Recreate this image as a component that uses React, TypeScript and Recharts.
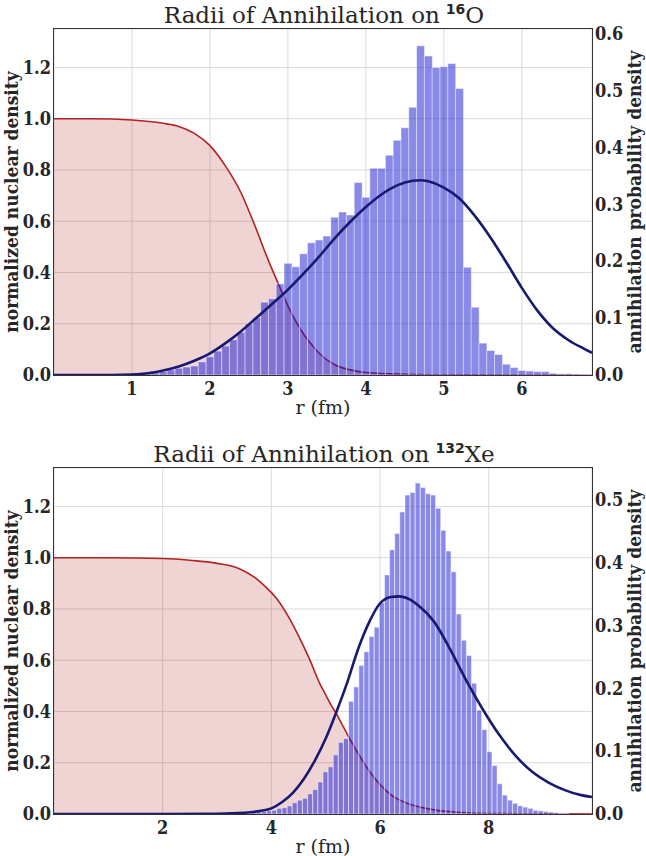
import { ComposedChart, Area, Bar, Line, XAxis, YAxis, CartesianGrid, Label } from 'recharts';

// ---- 16O panel ----
// histogram bins are 0.1 fm wide, centred on 0.0, 0.1, ... 6.9
const O16_BIN_WIDTH = 0.1;
const O16_HIST = [
  0, 0, 0, 0, 0, 0, 0, 0, 0, 0,
  0.001, 0.001, 0.002, 0.004, 0.006, 0.009, 0.012, 0.014, 0.016, 0.023,
  0.032, 0.042, 0.051, 0.062, 0.075, 0.09, 0.101, 0.128, 0.134, 0.16,
  0.196, 0.19, 0.213, 0.232, 0.237, 0.244, 0.277, 0.286, 0.281, 0.338,
  0.312, 0.363, 0.363, 0.386, 0.412, 0.434, 0.47, 0.578, 0.56, 0.54,
  0.541, 0.547, 0.503, 0.189, 0.119, 0.056, 0.043, 0.036, 0.019, 0.013,
  0.008, 0.007, 0.006, 0.006, 0.003, 0.002, 0.002, 0.0015, 0.001, 0.001,
];
const O16_RHO_R = [0, 0.5, 1.0, 1.4, 1.6, 1.8, 2.0, 2.2, 2.4, 2.5, 2.6, 2.7, 2.8, 2.9, 3.0, 3.1, 3.2, 3.3, 3.4, 3.6, 3.8, 4.0, 4.5, 5.0, 6.0, 6.9];
const O16_RHO = [1.0, 1.0, 0.995, 0.982, 0.97, 0.943, 0.895, 0.815, 0.71, 0.64, 0.565, 0.485, 0.41, 0.34, 0.27, 0.21, 0.16, 0.12, 0.085, 0.04, 0.02, 0.01, 0.003, 0.001, 0, 0];
const O16_PROB_R = [0, 0.5, 1.0, 1.2, 1.4, 1.6, 1.8, 2.0, 2.2, 2.4, 2.6, 2.8, 3.0, 3.2, 3.4, 3.6, 3.8, 4.0, 4.2, 4.4, 4.6, 4.7, 4.8, 5.0, 5.2, 5.4, 5.6, 5.8, 6.0, 6.2, 6.4, 6.6, 6.8, 6.9];
const O16_PROB = [0, 0, 0.001, 0.003, 0.008, 0.015, 0.025, 0.038, 0.056, 0.077, 0.101, 0.125, 0.15, 0.178, 0.208, 0.24, 0.269, 0.295, 0.317, 0.333, 0.341, 0.342, 0.34, 0.329, 0.31, 0.279, 0.241, 0.198, 0.153, 0.113, 0.082, 0.061, 0.046, 0.039];
const O16_X_TICKS = [1, 2, 3, 4, 5, 6];
const O16_RIGHT_TICKS = [0, 0.1, 0.2, 0.3, 0.4, 0.5, 0.6];

// ---- 132Xe panel ----
// 105 bins across 0 - 9.9 fm
const XE_BIN_WIDTH = 9.9 / 105;
const XE_HIST = [
  0, 0, 0, 0, 0, 0, 0, 0, 0, 0,
  0, 0, 0, 0, 0, 0, 0, 0, 0, 0,
  0, 0, 0, 0, 0, 0, 0, 0, 0, 0,
  0, 0, 0, 0, 0, 0, 0, 0, 0.001, 0.002,
  0.003, 0.004, 0.005, 0.006, 0.009, 0.01, 0.013, 0.018, 0.022, 0.025,
  0.032, 0.039, 0.051, 0.067, 0.075, 0.094, 0.114, 0.12, 0.179, 0.202,
  0.236, 0.258, 0.282, 0.297, 0.336, 0.38, 0.42, 0.446, 0.48, 0.507,
  0.511, 0.526, 0.519, 0.509, 0.507, 0.486, 0.451, 0.418, 0.385, 0.318,
  0.276, 0.252, 0.208, 0.165, 0.134, 0.099, 0.077, 0.048, 0.03, 0.022,
  0.017, 0.013, 0.011, 0.009, 0.006, 0.005, 0.004, 0.003, 0.002, 0.001,
  0.001, 0, 0, 0, 0, 0,
];
const XE_RHO_R = [0, 1.0, 2.0, 2.5, 3.0, 3.4, 3.7, 3.9, 4.1, 4.3, 4.5, 4.7, 4.9, 5.0, 5.1, 5.2, 5.3, 5.4, 5.6, 5.8, 6.0, 6.2, 6.5, 7.0, 7.5, 8.0, 9.0, 9.9];
const XE_RHO = [1.0, 1.0, 0.997, 0.99, 0.978, 0.958, 0.922, 0.885, 0.84, 0.775, 0.695, 0.605, 0.505, 0.465, 0.425, 0.39, 0.35, 0.31, 0.235, 0.168, 0.115, 0.075, 0.042, 0.016, 0.006, 0.002, 0.0005, 0];
const XE_PROB_R = [0, 2.0, 3.0, 3.5, 3.8, 4.0, 4.2, 4.4, 4.6, 4.8, 5.0, 5.2, 5.4, 5.6, 5.8, 6.0, 6.2, 6.35, 6.5, 6.7, 7.0, 7.3, 7.6, 7.9, 8.2, 8.5, 8.8, 9.1, 9.4, 9.7, 9.9];
const XE_PROB = [0, 0, 0.0005, 0.002, 0.005, 0.009, 0.019, 0.034, 0.056, 0.085, 0.12, 0.163, 0.21, 0.263, 0.305, 0.335, 0.345, 0.346, 0.343, 0.332, 0.305, 0.26, 0.21, 0.165, 0.125, 0.092, 0.067, 0.05, 0.038, 0.03, 0.027];
const XE_X_TICKS = [2, 4, 6, 8];
const XE_RIGHT_TICKS = [0, 0.1, 0.2, 0.3, 0.4, 0.5];

const LEFT_TICKS = [0, 0.2, 0.4, 0.6, 0.8, 1.0, 1.2];
const LEFT_MAX = 1.35;

const W = 646;
const PANEL_H = 417;
const AXIS_W = 54;
const X_AXIS_H = 42;
const PLOT_TOP = 29;
const PLOT_W = W - 2 * AXIS_W;
const PLOT_H = PANEL_H - X_AXIS_H - PLOT_TOP;
const SERIF = '"DejaVu Serif", serif';
const SERIF_COND = '"DejaVu Serif Condensed", "DejaVu Serif", serif';
const TEXT = '#262626';

const tickStyle = { fill: TEXT, fontSize: 18, fontFamily: SERIF_COND, fontWeight: 'bold' as const };

interface PanelProps {
  top: number;
  mass: string;
  element: string;
  xMax: number;
  xTicks: number[];
  rightMax: number;
  rightTicks: number[];
  binWidth: number;
  hist: number[];
  rhoR: number[];
  rho: number[];
  probR: number[];
  prob: number[];
}

function Panel(p: PanelProps) {
  const bars = p.hist.map((h, i) => ({ r: i * p.binWidth, h }));
  const rhoRows = p.rhoR.map((r, i) => ({ r, rho: p.rho[i] }));
  const probRows = p.probR.map((r, i) => ({ r, prob: p.prob[i] }));
  const layer = { position: 'absolute' as const, left: 0, top: 0 };
  const midY = PLOT_TOP + PLOT_H / 2;

  return (
    <div style={{ position: 'absolute', left: 0, top: p.top, width: W, height: PANEL_H }}>
      <svg width={W} height={PLOT_TOP} style={layer}>
        <text x={W / 2 + 1} y={23} textAnchor="middle" fontFamily={SERIF} fontSize={23} fill={TEXT}>
          Radii of Annihilation on
          <tspan dx={6} dy={-9} fontFamily='"DejaVu Sans", sans-serif' fontWeight="bold" fontSize={14}>
            {p.mass}
          </tspan>
          <tspan dy={9}>{p.element}</tspan>
        </text>
      </svg>

      {/* base layer: grid, r axis, left axis, nuclear density */}
      <div style={layer}>
        <ComposedChart width={W} height={PANEL_H} data={rhoRows} margin={{ top: PLOT_TOP, right: AXIS_W, bottom: 0, left: 0 }}>
          <CartesianGrid stroke="#dadada" strokeWidth={1} />
          <XAxis
            dataKey="r"
            type="number"
            domain={[0, p.xMax]}
            ticks={p.xTicks}
            interval={0}
            height={X_AXIS_H}
            tickLine={false}
            tickSize={0}
            tickMargin={7}
            axisLine={false}
            tick={tickStyle}
          >
            <Label
              content={(lp: any) => {
                const vb = lp.viewBox;
                return (
                  <text x={vb.x + vb.width / 2} y={vb.y + 39} textAnchor="middle" fontFamily={SERIF} fontSize={19} fill={TEXT}>
                    r (fm)
                  </text>
                );
              }}
            />
          </XAxis>
          <YAxis
            type="number"
            domain={[0, LEFT_MAX]}
            ticks={LEFT_TICKS}
            interval={0}
            width={AXIS_W}
            tickLine={false}
            tickSize={0}
            tickMargin={3}
            axisLine={false}
            tick={tickStyle}
            tickFormatter={(v: number) => v.toFixed(1)}
          >
            <Label
              content={() => (
                <text
                  x={18}
                  y={midY}
                  transform={`rotate(-90, 18, ${midY})`}
                  textAnchor="middle"
                  fontFamily={SERIF_COND}
                  fontWeight="bold"
                  fontSize={19}
                  fill={TEXT}
                >
                  normalized nuclear density
                </text>
              )}
            />
          </YAxis>
          <Area
            dataKey="rho"
            type="monotone"
            stroke="#b22222"
            strokeWidth={1.6}
            fill="#b22222"
            fillOpacity={0.2}
            dot={false}
            activeDot={false}
            isAnimationActive={false}
          />
        </ComposedChart>
      </div>

      {/* histogram layer */}
      <div style={layer}>
        <ComposedChart
          width={W}
          height={PANEL_H}
          data={bars}
          margin={{ top: PLOT_TOP, right: AXIS_W, bottom: X_AXIS_H, left: AXIS_W }}
          barCategoryGap={0}
          barGap={0}
        >
          <XAxis dataKey="r" type="number" domain={[0, p.xMax]} hide allowDataOverflow />
          <YAxis type="number" domain={[0, p.rightMax]} hide allowDataOverflow />
          <Bar dataKey="h" fill="#1414d2" fillOpacity={0.5} stroke="#ffffff" strokeWidth={0.5} isAnimationActive={false} />
        </ComposedChart>
      </div>

      {/* top layer: annihilation probability curve and right axis */}
      <div style={layer}>
        <ComposedChart width={W} height={PANEL_H} data={probRows} margin={{ top: PLOT_TOP, right: 0, bottom: X_AXIS_H, left: AXIS_W }}>
          <XAxis dataKey="r" type="number" domain={[0, p.xMax]} hide allowDataOverflow />
          <YAxis
            orientation="right"
            type="number"
            domain={[0, p.rightMax]}
            ticks={p.rightTicks}
            interval={0}
            width={AXIS_W}
            tickLine={false}
            tickSize={0}
            tickMargin={3}
            axisLine={false}
            tick={tickStyle}
            tickFormatter={(v: number) => v.toFixed(1)}
            allowDataOverflow
          >
            <Label
              content={() => (
                <text
                  x={641}
                  y={midY}
                  transform={`rotate(-90, 641, ${midY})`}
                  textAnchor="middle"
                  fontFamily={SERIF_COND}
                  fontWeight="bold"
                  fontSize={19}
                  fill={TEXT}
                >
                  annihilation probability density
                </text>
              )}
            />
          </YAxis>
          <Line
            dataKey="prob"
            type="monotone"
            stroke="#191970"
            strokeWidth={2.6}
            dot={false}
            activeDot={false}
            isAnimationActive={false}
          />
        </ComposedChart>
      </div>

      {/* plot frame */}
      <div
        style={{
          position: 'absolute',
          left: AXIS_W - 1,
          top: PLOT_TOP - 1,
          width: PLOT_W,
          height: PLOT_H,
          border: '1px solid #333',
          pointerEvents: 'none',
        }}
      />
    </div>
  );
}

export default function App() {
  return (
    <div style={{ position: 'absolute', left: 0, top: 0, width: W, height: 856, background: '#fff', overflow: 'hidden' }}>
      <Panel
        top={0}
        mass="16"
        element="O"
        xMax={6.9}
        xTicks={O16_X_TICKS}
        rightMax={LEFT_MAX * 0.45}
        rightTicks={O16_RIGHT_TICKS}
        binWidth={O16_BIN_WIDTH}
        hist={O16_HIST}
        rhoR={O16_RHO_R}
        rho={O16_RHO}
        probR={O16_PROB_R}
        prob={O16_PROB}
      />
      <Panel
        top={439}
        mass="132"
        element="Xe"
        xMax={9.9}
        xTicks={XE_X_TICKS}
        rightMax={0.55}
        rightTicks={XE_RIGHT_TICKS}
        binWidth={XE_BIN_WIDTH}
        hist={XE_HIST}
        rhoR={XE_RHO_R}
        rho={XE_RHO}
        probR={XE_PROB_R}
        prob={XE_PROB}
      />
    </div>
  );
}
